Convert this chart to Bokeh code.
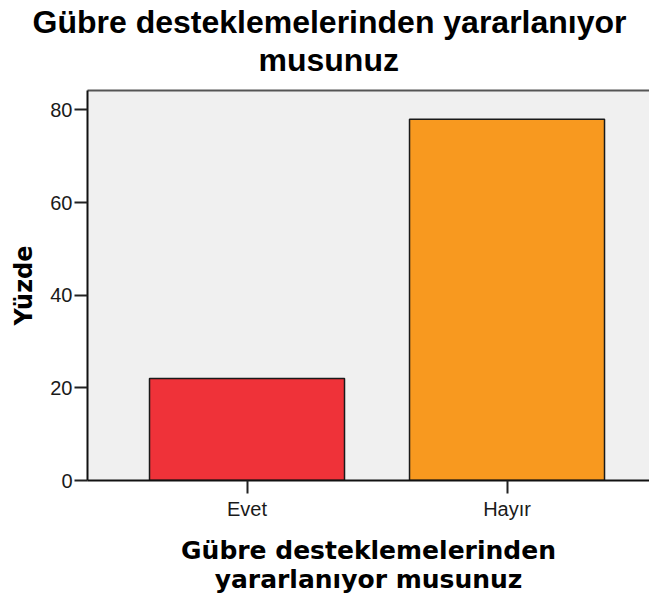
from bokeh.plotting import figure
from bokeh.models import Range1d, FixedTicker, ColumnDataSource, Title, LinearAxis
from bokeh.embed import file_html
from bokeh.resources import INLINE

# ---- data ----
categories = ["Evet", "Hayır"]
percent = [22.0, 78.0]
bar_colors = ["#EF3239", "#F8991F"]
y_ticks = [0, 20, 40, 60, 80]
title_lines = ["Gübre desteklemelerinden yararlanıyor", "musunuz"]
xlabel = "Gübre desteklemelerinden\nyararlanıyor musunuz"
ylabel = "Yüzde"

x_pos = list(range(len(categories)))
source = ColumnDataSource(dict(x=x_pos, top=percent, color=bar_colors, cat=categories))

Y_MAX = 84.2

p = figure(width=649, height=596, output_backend="svg", toolbar_location=None,
           x_range=Range1d(-0.6135, 1.548), y_range=Range1d(0, Y_MAX),
           title=None,
           min_border_left=87, min_border_right=0, min_border_top=90, min_border_bottom=116)

p.vbar(x="x", top="top", bottom=0, width=0.75, fill_color="color",
       line_color="#1a1a1a", line_width=1.5, source=source)

p.background_fill_color = "#F0F0F0"
p.border_fill_color = "white"
p.outline_line_color = None
p.grid.visible = False

# x axis
xa = p.xaxis[0]
xa.ticker = FixedTicker(ticks=x_pos)
xa.major_label_overrides = {i: c for i, c in zip(x_pos, categories)}
xa.minor_tick_line_color = None
xa.major_tick_in = 0
xa.major_tick_out = 13
xa.major_tick_line_width = 2
xa.major_tick_line_color = "#222222"
xa.axis_line_color = "#111111"
xa.axis_line_width = 2
xa.major_label_standoff = 4
xa.major_label_text_font = "Liberation Sans"
xa.major_label_text_font_size = "20px"
xa.major_label_text_color = "#1a1a1a"
xa.axis_label = xlabel
xa.axis_label_text_font = "DejaVu Sans"
xa.axis_label_text_font_style = "bold"
xa.axis_label_text_font_size = "25px"
xa.axis_label_text_line_height = 1.0
xa.axis_label_text_color = "#000000"
xa.axis_label_standoff = 13

# y axis
ya = p.yaxis[0]
ya.ticker = FixedTicker(ticks=y_ticks)
ya.minor_tick_line_color = None
ya.major_tick_in = 0
ya.major_tick_out = 13
ya.major_tick_line_width = 2
ya.major_tick_line_color = "#222222"
ya.axis_line_color = "#111111"
ya.axis_line_width = 2
ya.major_label_standoff = 2
ya.major_label_text_font = "Liberation Sans"
ya.major_label_text_font_size = "20px"
ya.major_label_text_color = "#1a1a1a"
ya.axis_label = ylabel
ya.axis_label_text_font = "DejaVu Sans"
ya.axis_label_text_font_style = "bold"
ya.axis_label_text_font_size = "24px"
ya.axis_label_text_color = "#000000"
ya.axis_label_standoff = 9

# top border of the plot area (axis line only) that also leaves a gap below the title
top_axis = LinearAxis(ticker=FixedTicker(ticks=[x_pos[0]]), major_tick_out=13, major_tick_in=0,
                      minor_tick_out=0, minor_tick_in=0, major_label_standoff=0,
                      major_label_overrides={x_pos[0]: ""}, major_label_text_font_size="1px",
                      axis_line_color="#555555", axis_line_width=2,
                      major_tick_line_color=None, minor_tick_line_color=None)
p.add_layout(top_axis, "above")

# title: two lines, centred on the whole image
p.add_layout(Title(text=title_lines[1], align="left", offset=171,
                   text_font="Liberation Sans", text_font_style="bold",
                   text_font_size="32px", text_color="#000000", standoff=0), "above")
p.add_layout(Title(text=title_lines[0], align="left", offset=-55,
                   text_font="Liberation Sans", text_font_style="bold",
                   text_font_size="32px", text_color="#000000", standoff=0), "above")

open("out.html", "w").write(file_html(p, INLINE))
